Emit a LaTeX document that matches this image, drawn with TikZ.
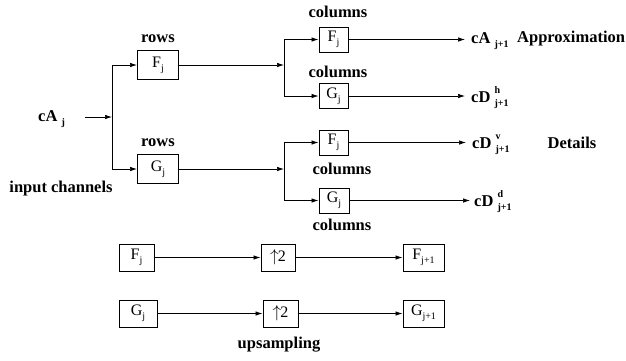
\documentclass[tikz,border=0pt]{standalone}
\usepackage{fontspec}
\setmainfont{Liberation Serif}
\usetikzlibrary{arrows.meta}
% small lowered index and stacked super/sub index
\newcommand{\lo}[1]{\raisebox{-0.55ex}{\fontsize{10}{10}\selectfont #1}}
\newcommand{\hilo}[2]{\rlap{\raisebox{1.1ex}{\fontsize{10}{10}\selectfont #1}}\raisebox{-0.6ex}{\fontsize{10}{10}\selectfont #2}}
\begin{document}
\begin{tikzpicture}[x=1pt,y=-1pt,
  lbl/.style={font=\fontsize{16.5}{19}\selectfont\bfseries, inner sep=0pt},
  blk/.style={draw, line width=1pt, inner sep=0pt, font=\fontsize{16}{19}\selectfont},
  wire/.style={line width=0.7pt},
  arr/.style={line width=0.7pt, -{Latex[length=7pt,width=4.5pt]}}]
\useasboundingbox (0,0) rectangle (626,360);

% input
\node[lbl, anchor=west] (cAj) at (38,119) {cA~\lo{j}};
\coordinate (in) at (85,117);
\coordinate (s0) at (112,117);
\node[lbl] at (61,189) {input channels};

% row filters
\node[blk, minimum width=41pt, minimum height=29pt] (rF) at (158,65) {F\lo{j}};
\node[blk, minimum width=41pt, minimum height=29pt] (rG) at (158,169) {G\lo{j}};
\node[lbl] at (158,39) {rows};
\node[lbl] at (158,143) {rows};

\draw[arr] (in) -- (s0);
\draw[wire] (s0 |- rF.west) -- (s0 |- rG.west);
\draw[arr] (s0 |- rF.west) -- (rF.west);
\draw[arr] (s0 |- rG.west) -- (rG.west);

% column filters
\coordinate (s1) at (284,65);
\coordinate (s2) at (284,169);
\node[blk, minimum width=29pt, minimum height=25pt] (cF1) at (333.5,39.5) {F\lo{j}};
\node[blk, minimum width=29pt, minimum height=25pt] (cG1) at (333.5,96) {G\lo{j}};
\node[blk, minimum width=29pt, minimum height=25pt] (cF2) at (333.5,142.5) {F\lo{j}};
\node[blk, minimum width=30pt, minimum height=25pt] (cG2) at (334,200.5) {G\lo{j}};
\node[lbl] at (338,12) {columns};
\node[lbl] at (338,72) {columns};
\node[lbl] at (342,169) {columns};
\node[lbl] at (342,225) {columns};

\draw[arr] (rF.east) -- (s1);
\draw[arr] (rG.east) -- (s2);
\draw[wire] (s1 |- cF1.west) -- (s1 |- cG1.west);
\draw[wire] (s2 |- cF2.west) -- (s2 |- cG2.west);
\draw[arr] (s1 |- cF1.west) -- (cF1.west);
\draw[arr] (s1 |- cG1.west) -- (cG1.west);
\draw[arr] (s2 |- cF2.west) -- (cF2.west);
\draw[arr] (s2 |- cG2.west) -- (cG2.west);

% outputs
\node[lbl, anchor=west] (oA) at (471,41) {cA~\lo{j+1}};
\node[lbl, anchor=west] (oH) at (471,98) {cD~\hilo{h}{j+1}};
\node[lbl, anchor=west] (oV) at (472,145) {cD~\hilo{v}{j+1}};
\node[lbl, anchor=west] (oD) at (474,202) {cD~\hilo{d}{j+1}};
\node[lbl, anchor=west] at (517,39) {Approximation};
\node[lbl] at (572,143) {Details};

\draw[arr, shorten >=6pt] (cF1.east) -- (cF1.east -| oA.west);
\draw[arr, shorten >=6pt] (cG1.east) -- (cG1.east -| oH.west);
\draw[arr, shorten >=6pt] (cF2.east) -- (cF2.east -| oV.west);
\draw[arr, shorten >=4pt] (cG2.east) -- (cG2.east -| oD.west);

% upsampling
\node[blk, minimum width=35pt, minimum height=27pt] (bF) at (136.5,257.5) {F\lo{j}};
\node[blk, minimum width=34pt, minimum height=27pt] (bU1) at (278,257.5) {$\uparrow$\kern-1pt2};
\node[blk, minimum width=41pt, minimum height=27pt] (bF1) at (423.5,257.5) {F\lo{j+1}};
\node[blk, minimum width=38pt, minimum height=27pt] (bG) at (138,313.5) {G\lo{j}};
\node[blk, minimum width=35pt, minimum height=27pt] (bU2) at (280.5,313.5) {$\uparrow$\kern-1pt2};
\node[blk, minimum width=41pt, minimum height=27pt] (bG1) at (423.5,313.5) {G\lo{j+1}};
\node[lbl] at (279,345) {upsampling};

\draw[arr] (bF) -- (bU1);
\draw[arr] (bU1) -- (bF1);
\draw[arr] (bG) -- (bU2);
\draw[arr] (bU2) -- (bG1);
\end{tikzpicture}
\end{document}
